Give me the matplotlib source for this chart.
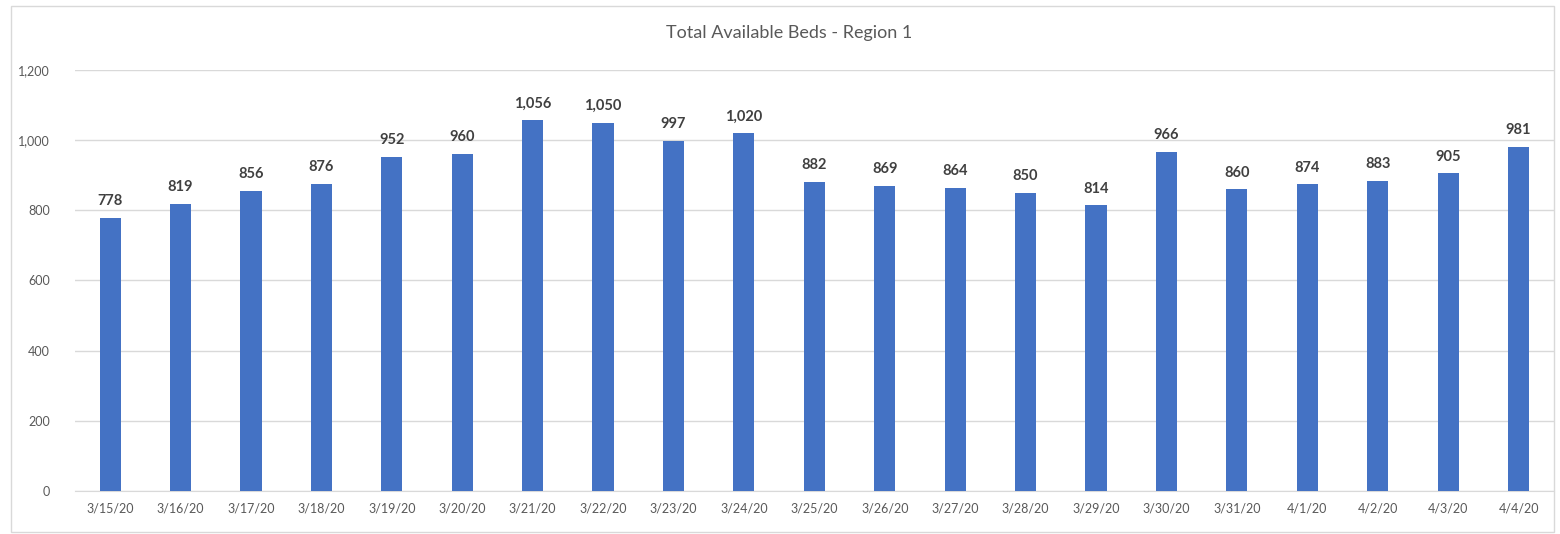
import numpy as np
import matplotlib
matplotlib.use('Agg')
import matplotlib.pyplot as plt
from matplotlib.patches import Rectangle
from matplotlib.ticker import FuncFormatter

# data
dates = ['3/15/20', '3/16/20', '3/17/20', '3/18/20', '3/19/20', '3/20/20', '3/21/20',
         '3/22/20', '3/23/20', '3/24/20', '3/25/20', '3/26/20', '3/27/20', '3/28/20',
         '3/29/20', '3/30/20', '3/31/20', '4/1/20', '4/2/20', '4/3/20', '4/4/20']
beds = [778, 819, 856, 876, 952, 960, 1056, 1050, 997, 1020, 882,
        869, 864, 850, 814, 966, 860, 874, 883, 905, 981]
yticks = [0, 200, 400, 600, 800, 1000, 1200]

plt.rcParams['font.family'] = ['Lato', 'DejaVu Sans']

fig = plt.figure(figsize=(15.6, 5.34), dpi=100)
ax = fig.add_axes([0.048, 0.0805, 0.948, 0.7885])

x = np.arange(len(dates))
ax.bar(x, beds, width=0.3, color='#4472C4', zorder=3)

for xi, v in zip(x, beds):
    ax.annotate(f'{v:,}', (xi, v), xytext=(0, 7), textcoords='offset points',
                ha='center', va='bottom', fontsize=10.5, fontweight='bold', color='#404040')

ax.set_xlim(-0.5, len(dates) - 0.5)
ax.set_ylim(0, 1200)
ax.set_yticks(yticks)
ax.yaxis.set_major_formatter(FuncFormatter(lambda v, p: f'{int(v):,}'))
ax.set_xticks(x)
ax.set_xticklabels(dates)
ax.tick_params(axis='both', length=0, labelsize=9, colors='#595959')
ax.tick_params(axis='y', pad=18)
ax.tick_params(axis='x', pad=8)
ax.grid(axis='y', color='#D9D9D9', linewidth=1, zorder=0)
for s in ['top', 'right', 'left']:
    ax.spines[s].set_visible(False)
ax.spines['bottom'].set_color('#D9D9D9')

fig.text(0.506, 0.938, 'Total Available Beds - Region 1', ha='center', va='center',
         fontsize=13, color='#595959')

# chart border
fig.patches.append(Rectangle((0.007, 0.004), 0.989, 0.985, transform=fig.transFigure,
                             fill=False, edgecolor='#D9D9D9', linewidth=1))

fig.savefig('out.png', dpi=100)
